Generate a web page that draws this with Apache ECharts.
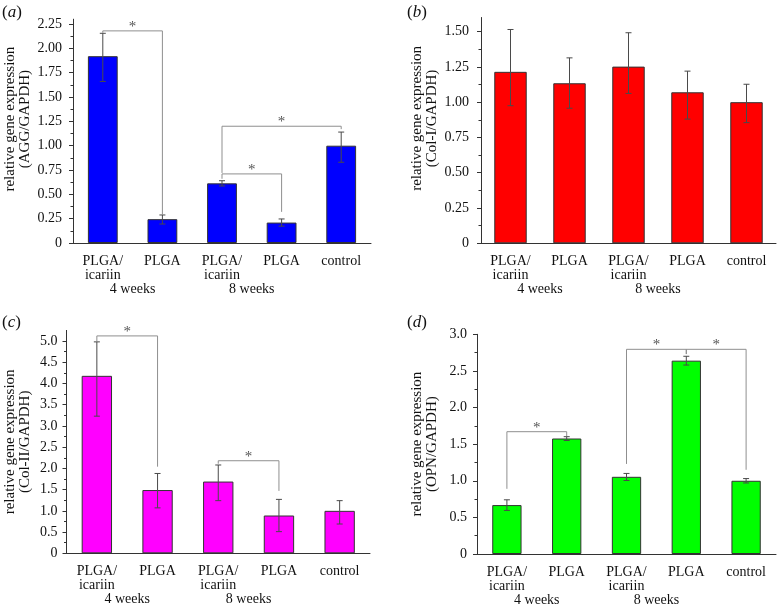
<!DOCTYPE html>
<html><head><meta charset="utf-8">
<script src="https://cdn.jsdelivr.net/npm/echarts@6/dist/echarts.min.js"></script>
<style>html,body{margin:0;padding:0;background:#fff}#c{width:779px;height:607px}</style>
</head><body><div id="c"></div>
<script>
// ---------- data ----------
const categories = ['PLGA/\nicariin', 'PLGA', 'PLGA/\nicariin', 'PLGA', 'control'];
const groupLabels = ['', '4 weeks', '', '8 weeks', '', ''];

const aggMean = [1.92, 0.245, 0.613, 0.21, 1.0];
const aggUp   = [0.235, 0.043, 0.027, 0.037, 0.14];
const aggDown = [0.26, 0.05, 0.027, 0.037, 0.17];
const aggTicks = [0, 0.25, 0.5, 0.75, 1.0, 1.25, 1.5, 1.75, 2.0, 2.25];
// brackets: [fromIndex, toIndex, fromY, topY, toY]
const aggBrackets = [[0, 1, 2.16, 2.18, 0.29], [2, 4, 0.72, 1.20, 1.17], [2, 3, 0.66, 0.71, 0.32]];

const col1Mean = [1.215, 1.134, 1.252, 1.07, 1.0];
const col1Up   = [0.30, 0.18, 0.24, 0.15, 0.127];
const col1Down = [0.24, 0.177, 0.19, 0.19, 0.145];
const col1Ticks = [0, 0.25, 0.5, 0.75, 1.0, 1.25, 1.5];
const col1Brackets = [];

const col2Mean = [4.18, 1.49, 1.69, 0.89, 1.0];
const col2Up   = [0.80, 0.39, 0.39, 0.38, 0.24];
const col2Down = [0.95, 0.42, 0.45, 0.38, 0.31];
const col2Ticks = [0, 0.5, 1.0, 1.5, 2.0, 2.5, 3.0, 3.5, 4.0, 4.5, 5.0];
const col2Brackets = [[0, 1, 5.0, 5.12, 2.04], [2, 3, 2.11, 2.18, 1.47]];

const opnMean = [0.668, 1.577, 1.054, 2.64, 1.0];
const opnUp   = [0.072, 0.025, 0.046, 0.06, 0.03];
const opnDown = [0.073, 0.027, 0.05, 0.06, 0.03];
const opnTicks = [0, 0.5, 1.0, 1.5, 2.0, 2.5, 3.0];
const opnBrackets = [[0, 1, 0.89, 1.67, 1.61], [2, 3, 1.23, 2.795, 2.73], [3, 4, 2.73, 2.795, 1.15]];

const yNames = ['relative gene expression\n(AGG/GAPDH)', 'relative gene expression\n(Col-I/GAPDH)',
                'relative gene expression\n(Col-II/GAPDH)', 'relative gene expression\n(OPN/GAPDH)'];
const panelLetters = ['a', 'b', 'c', 'd'];

// ---------- layout ----------
const FONT = 'Liberation Serif';
const panels = [
  {grid: {left: 73, right: 408, top: 19.2, bottom: 364}, max: 2.3, interval: 0.25, dec: 2,
   ticks: aggTicks, mean: aggMean, up: aggUp, down: aggDown, br: aggBrackets,
   color: '#0000ff', barWidth: '50%', nameGap: 40, namePad: [0, 0, 0, 24], letterPos: [2, 4], lblMargin: 11},
  {grid: {left: 481, right: 1, top: 17.5, bottom: 363.7}, max: 1.6, interval: 0.25, dec: 2,
   ticks: col1Ticks, mean: col1Mean, up: col1Up, down: col1Down, br: col1Brackets,
   color: '#ff0000', barWidth: '55%', nameGap: 41, namePad: [0, 0, 0, 24], letterPos: [407, 4], lblMargin: 12},
  {grid: {left: 66.5, right: 409, top: 330.4, bottom: 53.7}, max: 5.25, interval: 0.5, dec: 1,
   ticks: col2Ticks, mean: col2Mean, up: col2Up, down: col2Down, br: col2Brackets,
   color: '#ff00ff', barWidth: '50%', nameGap: 34, namePad: 0, letterPos: [2, 314], lblMargin: 9},
  {grid: {left: 477, right: 2.5, top: 334.3, bottom: 52.7}, max: 3.0, interval: 0.5, dec: 1,
   ticks: opnTicks, mean: opnMean, up: opnUp, down: opnDown, br: opnBrackets,
   color: '#00ff00', barWidth: '49%', nameGap: 37, namePad: 0, letterPos: [407, 314], lblMargin: 10}
];

function errRender(params, api) {
  const i = api.value(0), lo = api.value(1), hi = api.value(2);
  const a = api.coord([i, hi]), b = api.coord([i, lo]);
  const w = 3, st = {stroke: '#4a4a4a', lineWidth: 1};
  return {type: 'group', children: [
    {type: 'line', shape: {x1: a[0], y1: a[1], x2: b[0], y2: b[1]}, style: st},
    {type: 'line', shape: {x1: a[0] - w, y1: a[1], x2: a[0] + w, y2: a[1]}, style: st},
    {type: 'line', shape: {x1: b[0] - w, y1: b[1], x2: b[0] + w, y2: b[1]}, style: st}
  ]};
}
function brRender(params, api) {
  const x1 = api.value(0), x2 = api.value(1), y1 = api.value(2), yt = api.value(3), y2 = api.value(4);
  const a = api.coord([x1, y1]), b = api.coord([x1, yt]), c = api.coord([x2, yt]), d = api.coord([x2, y2]);
  return {type: 'group', children: [
    {type: 'polyline', shape: {points: [a, b, c, d]}, style: {stroke: '#8f8f8f', lineWidth: 1, fill: null}},
    {type: 'text', x: (b[0] + c[0]) / 2, y: b[1] - 4,
     style: {text: '*', fontSize: 15, fontFamily: FONT, fill: '#555', align: 'center', verticalAlign: 'middle'}}
  ]};
}

const option = {backgroundColor: '#fff', animation: false, grid: [], xAxis: [], yAxis: [], series: [], title: []};
panels.forEach((p, k) => {
  option.grid.push(Object.assign({containLabel: false}, p.grid));
  option.title.push({
    text: '{p|(}{i|' + panelLetters[k] + '}{p|)}', left: p.letterPos[0], top: p.letterPos[1], padding: 0,
    textStyle: {fontWeight: 'normal',
                rich: {p: {fontFamily: FONT, fontSize: 17, fontWeight: 'normal', color: '#111'},
                       i: {fontFamily: FONT, fontSize: 17, fontWeight: 'normal', fontStyle: 'italic', color: '#111'}}}
  });
  option.xAxis.push({
    type: 'category', gridIndex: k, data: categories,
    axisLine: {lineStyle: {color: '#333', width: 1}},
    axisTick: {alignWithLabel: true, length: 4, lineStyle: {color: '#333'}},
    axisLabel: {interval: 0, margin: 11, fontFamily: FONT, fontSize: 14, lineHeight: 14, color: '#111'}
  });
  option.xAxis.push({
    type: 'category', gridIndex: k, data: groupLabels, boundaryGap: false, position: 'bottom',
    axisLine: {show: false}, axisTick: {show: false},
    axisLabel: {interval: 0, margin: 39, fontFamily: FONT, fontSize: 14, lineHeight: 14, color: '#111'}
  });
  option.yAxis.push({
    type: 'value', gridIndex: k, min: 0, max: p.max, interval: p.interval,
    name: yNames[k], nameLocation: 'middle', nameGap: p.nameGap,
    nameTextStyle: {fontFamily: FONT, fontSize: 15, lineHeight: 15, color: '#111', padding: p.namePad},
    axisLine: {show: true, lineStyle: {color: '#333', width: 1}},
    axisTick: {show: true, length: 4, customValues: p.ticks, lineStyle: {color: '#333'}},
    minorTick: {show: true, splitNumber: 2, length: 2.5, lineStyle: {color: '#333'}},
    splitLine: {show: false},
    axisLabel: {customValues: p.ticks, margin: p.lblMargin, fontFamily: FONT, fontSize: 14, color: '#111',
                formatter: v => v === 0 ? '0' : v.toFixed(p.dec)}
  });
  option.series.push({
    type: 'bar', xAxisIndex: 2 * k, yAxisIndex: k, data: p.mean, barWidth: p.barWidth,
    itemStyle: {color: p.color, borderColor: '#333', borderWidth: 1}
  });
  option.series.push({
    type: 'custom', xAxisIndex: 2 * k, yAxisIndex: k, renderItem: errRender,
    encode: {x: 0, y: [1, 2]},
    data: p.mean.map((m, i) => [i, m - p.down[i], m + p.up[i]]), z: 3
  });
  if (p.br.length) option.series.push({
    type: 'custom', xAxisIndex: 2 * k, yAxisIndex: k, renderItem: brRender,
    encode: {x: [0, 1], y: [2, 3, 4]}, data: p.br, z: 4
  });
});
const chart = echarts.init(document.getElementById('c'), null, {renderer: 'canvas'});
chart.setOption(option);
</script></body></html>
